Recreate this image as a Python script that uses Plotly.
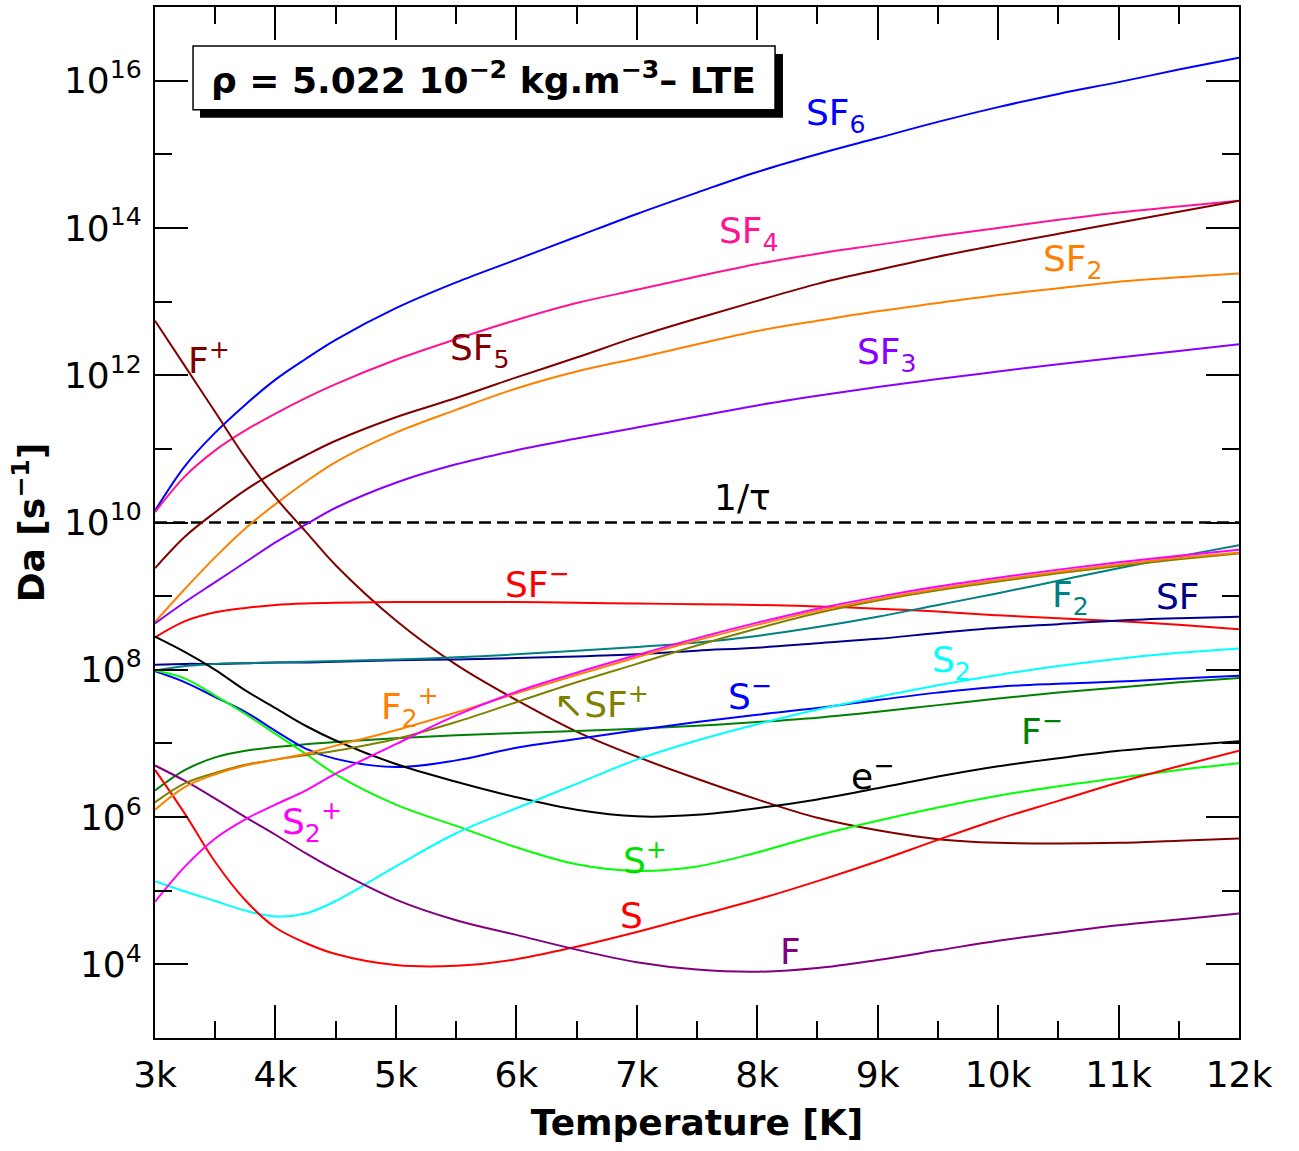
import plotly.graph_objects as go

# Temperature grid [K]
T_K = [3000, 3250, 3500, 3750, 4000, 4250, 4500, 5000, 5500, 6000, 6500, 7000, 7500, 8000,
       8500, 9000, 9500, 10000, 10500, 11000, 11500, 12000]

# log10 of Da [s^-1]
log_SF6 = [10.16, 10.77, 11.22, 11.60, 11.94, 12.22, 12.48, 12.91, 13.26, 13.57, 13.88, 14.19, 14.48, 14.76, 15.00, 15.22, 15.44, 15.64, 15.82, 15.98, 16.15, 16.31]
log_SF4 = [10.14, 10.63, 10.98, 11.25, 11.48, 11.69, 11.88, 12.21, 12.49, 12.75, 12.98, 13.16, 13.34, 13.51, 13.65, 13.77, 13.89, 14.00, 14.11, 14.21, 14.29, 14.37]
log_SF5 = [9.38, 9.81, 10.14, 10.44, 10.69, 10.91, 11.11, 11.43, 11.69, 11.97, 12.24, 12.52, 12.77, 13.01, 13.24, 13.43, 13.61, 13.77, 13.92, 14.07, 14.22, 14.37]
log_SF2 = [8.65, 9.10, 9.53, 9.92, 10.25, 10.55, 10.82, 11.22, 11.53, 11.82, 12.05, 12.23, 12.42, 12.60, 12.74, 12.87, 12.98, 13.09, 13.18, 13.27, 13.33, 13.38]
log_SF3 = [8.63, 8.92, 9.19, 9.46, 9.73, 9.97, 10.20, 10.54, 10.79, 10.98, 11.14, 11.29, 11.44, 11.59, 11.72, 11.84, 11.95, 12.05, 12.15, 12.24, 12.33, 12.42]
log_Fp = [12.74, 12.12, 11.50, 10.88, 10.34, 9.88, 9.42, 8.67, 8.07, 7.59, 7.16, 6.82, 6.52, 6.24, 5.99, 5.82, 5.70, 5.65, 5.64, 5.65, 5.68, 5.71]
log_SFm = [8.44, 8.66, 8.78, 8.84, 8.88, 8.90, 8.91, 8.92, 8.92, 8.92, 8.91, 8.90, 8.89, 8.88, 8.86, 8.83, 8.79, 8.74, 8.70, 8.66, 8.61, 8.55]
log_F2 = [7.99, 8.05, 8.08, 8.09, 8.10, 8.11, 8.12, 8.14, 8.17, 8.21, 8.26, 8.31, 8.37, 8.46, 8.58, 8.72, 8.88, 9.04, 9.21, 9.38, 9.54, 9.69]
log_SF = [8.07, 8.08, 8.08, 8.09, 8.10, 8.10, 8.11, 8.13, 8.14, 8.16, 8.18, 8.21, 8.26, 8.30, 8.36, 8.42, 8.50, 8.57, 8.62, 8.67, 8.70, 8.72]
log_S2p = [4.85, 5.33, 5.71, 5.97, 6.17, 6.36, 6.59, 6.99, 7.38, 7.70, 7.96, 8.20, 8.43, 8.64, 8.83, 8.99, 9.13, 9.25, 9.36, 9.46, 9.55, 9.63]
log_F2p = [6.10, 6.41, 6.58, 6.70, 6.78, 6.86, 6.97, 7.18, 7.42, 7.68, 7.93, 8.17, 8.40, 8.61, 8.80, 8.96, 9.10, 9.22, 9.33, 9.43, 9.52, 9.59]
log_SFp = [6.20, 6.46, 6.60, 6.71, 6.78, 6.84, 6.90, 7.06, 7.29, 7.56, 7.83, 8.08, 8.33, 8.56, 8.77, 8.94, 9.08, 9.20, 9.31, 9.41, 9.50, 9.58]
log_Fm = [6.36, 6.64, 6.81, 6.90, 6.95, 6.99, 7.02, 7.07, 7.11, 7.14, 7.17, 7.20, 7.24, 7.29, 7.35, 7.43, 7.52, 7.61, 7.69, 7.76, 7.83, 7.89]
log_Sm = [7.98, 7.83, 7.63, 7.43, 7.17, 6.93, 6.79, 6.68, 6.77, 6.94, 7.06, 7.18, 7.29, 7.39, 7.48, 7.59, 7.69, 7.77, 7.81, 7.84, 7.88, 7.92]
log_Sp = [7.99, 7.88, 7.65, 7.40, 7.13, 6.86, 6.58, 6.17, 5.88, 5.59, 5.36, 5.27, 5.33, 5.52, 5.75, 5.95, 6.13, 6.29, 6.42, 6.53, 6.64, 6.73]
log_e = [8.45, 8.24, 8.00, 7.72, 7.48, 7.24, 7.04, 6.72, 6.48, 6.27, 6.10, 6.01, 6.03, 6.12, 6.24, 6.39, 6.55, 6.69, 6.80, 6.90, 6.97, 7.03]
log_S2 = [5.13, 4.99, 4.86, 4.73, 4.65, 4.69, 4.86, 5.33, 5.78, 6.12, 6.45, 6.78, 7.04, 7.26, 7.46, 7.63, 7.79, 7.93, 8.05, 8.15, 8.23, 8.29]
log_S = [6.64, 6.04, 5.39, 4.87, 4.50, 4.29, 4.14, 3.99, 3.98, 4.07, 4.24, 4.44, 4.66, 4.88, 5.13, 5.40, 5.69, 5.97, 6.22, 6.47, 6.69, 6.90]
log_F = [6.70, 6.49, 6.25, 6.00, 5.76, 5.51, 5.28, 4.88, 4.60, 4.40, 4.20, 4.03, 3.93, 3.90, 3.95, 4.06, 4.19, 4.32, 4.43, 4.53, 4.61, 4.69]

inv_tau = 1e10

x_ticks = [3000, 4000, 5000, 6000, 7000, 8000, 9000, 10000, 11000, 12000]
x_ticktext = ["3k", "4k", "5k", "6k", "7k", "8k", "9k", "10k", "11k", "12k"]
x_minor = [3500, 4500, 5500, 6500, 7500, 8500, 9500, 10500, 11500]
y_exps = [4, 6, 8, 10, 12, 14, 16]
y_minor_exps = [5, 7, 9, 11, 13, 15]

series = [
    ("SF6", log_SF6, "#0000FF"),
    ("SF4", log_SF4, "#FF1493"),
    ("SF5", log_SF5, "#800000"),
    ("SF2", log_SF2, "#FF8000"),
    ("SF3", log_SF3, "#8A00FF"),
    ("F+", log_Fp, "#800000"),
    ("SF-", log_SFm, "#FF0000"),
    ("SF", log_SF, "#00008B"),
    ("F2", log_F2, "#008080"),
    ("F-", log_Fm, "#008000"),
    ("S-", log_Sm, "#0000FF"),
    ("S+", log_Sp, "#00FF00"),
    ("e-", log_e, "#000000"),
    ("S2", log_S2, "#00FFFF"),
    ("S", log_S, "#FF0000"),
    ("F", log_F, "#800080"),
    ("SF+", log_SFp, "#808000"),
    ("F2+", log_F2p, "#FF8000"),
    ("S2+", log_S2p, "#FF00FF"),
]

# label text, T position, log10 position, color
labels = [
    ("SF<sub>6</sub>", 8650, 15.52, "#0000FF"),
    ("SF<sub>4</sub>", 7930, 13.93, "#FF1493"),
    ("SF<sub>2</sub>", 10620, 13.54, "#FF8000"),
    ("SF<sub>5</sub>", 5700, 12.33, "#800000"),
    ("SF<sub>3</sub>", 9080, 12.28, "#8A00FF"),
    ("F<sup>+</sup>", 3445, 12.24, "#800000"),
    ("1/τ", 7880, 10.34, "#000000"),
    ("SF<sup>−</sup>", 6175, 9.19, "#FF0000"),
    ("F<sub>2</sub>", 10600, 8.98, "#008080"),
    ("SF", 11490, 9.00, "#00008B"),
    ("S<sub>2</sub>", 9610, 8.10, "#00FFFF"),
    ("S<sup>−</sup>", 7940, 7.67, "#0000FF"),
    ("F<sub>2</sub><sup>+</sup>", 5120, 7.50, "#FF8000"),
    ("↖SF<sup>+</sup>", 6710, 7.56, "#808000"),
    ("F<sup>−</sup>", 10365, 7.20, "#008000"),
    ("e<sup>−</sup>", 8955, 6.59, "#000000"),
    ("S<sub>2</sub><sup>+</sup>", 4300, 5.93, "#FF00FF"),
    ("S<sup>+</sup>", 7070, 5.44, "#00E000"),
    ("S", 6955, 4.67, "#FF0000"),
    ("F", 8275, 4.18, "#800080"),
]

FONT = "DejaVu Sans"

fig = go.Figure()

fig.add_trace(go.Scatter(
    x=[T_K[0], T_K[-1]], y=[inv_tau, inv_tau], mode="lines",
    line=dict(color="black", width=2.5, dash="12px,6px"), hoverinfo="skip", showlegend=False))

for name, vals, col in series:
    fig.add_trace(go.Scatter(
        x=T_K, y=[10 ** v for v in vals], mode="lines", name=name,
        line=dict(color=col, width=2, shape="spline", smoothing=1.0),
        showlegend=False))

for txt, tx, ly, col in labels:
    fig.add_annotation(x=tx, y=ly, xref="x", yref="y", text=txt, showarrow=False,
                       xanchor="center", yanchor="middle",
                       font=dict(family=FONT, size=36, color=col))

# density box with shadow
fig.add_shape(type="rect", xref="paper", yref="paper", x0=0.0415, x1=0.5793, y0=0.8925, y1=0.9545,
              fillcolor="black", line=dict(width=0), layer="above")
fig.add_shape(type="rect", xref="paper", yref="paper", x0=0.0351, x1=0.572, y0=0.9003, y1=0.9622,
              fillcolor="white", line=dict(color="black", width=1.5), layer="above")
fig.add_annotation(xref="paper", yref="paper", x=0.3035, y=0.9313, showarrow=False,
                   xanchor="center", yanchor="middle",
                   text="<b>ρ = 5.022 10<sup>−2</sup> kg.m<sup>−3</sup>– LTE</b>",
                   font=dict(family=FONT, size=36, color="black"))

axis_common = dict(
    showgrid=False, zeroline=False, showline=True, linecolor="black", linewidth=2,
    mirror="allticks", ticks="inside", tickcolor="black", tickwidth=1.5, ticklen=33,
    tickfont=dict(family=FONT, size=36, color="black"),
)

fig.update_xaxes(
    range=[3000, 12000], tickmode="array", tickvals=x_ticks, ticktext=x_ticktext,
    minor=dict(tickmode="array", tickvals=x_minor, ticks="inside", ticklen=17, tickwidth=1.5, tickcolor="black"),
    title=dict(text="<b>Temperature [K]</b>", font=dict(family=FONT, size=36, color="black"), standoff=16),
    ticklabelstandoff=4,
    **axis_common)

fig.update_yaxes(
    type="log", range=[3, 17], tickmode="array",
    tickvals=[10 ** e for e in y_exps], ticktext=["10<sup>%d</sup>" % e for e in y_exps],
    minor=dict(tickmode="array", tickvals=[10 ** e for e in y_minor_exps], ticks="inside", ticklen=17,
               tickwidth=1.5, tickcolor="black"),
    title=dict(text="<b>Da [s<sup>−1</sup>]</b>", font=dict(family=FONT, size=36, color="black"), standoff=8),
    ticklabelstandoff=4,
    **axis_common)

fig.update_layout(
    width=1299, height=1151,
    margin=dict(l=155, r=60, t=5, b=113),
    paper_bgcolor="white", plot_bgcolor="white",
    font=dict(family=FONT, color="black"),
)

fig.write_html("out.html", config={"displayModeBar": False},
               post_script="document.body.style.margin='0';document.body.style.padding='0';")
